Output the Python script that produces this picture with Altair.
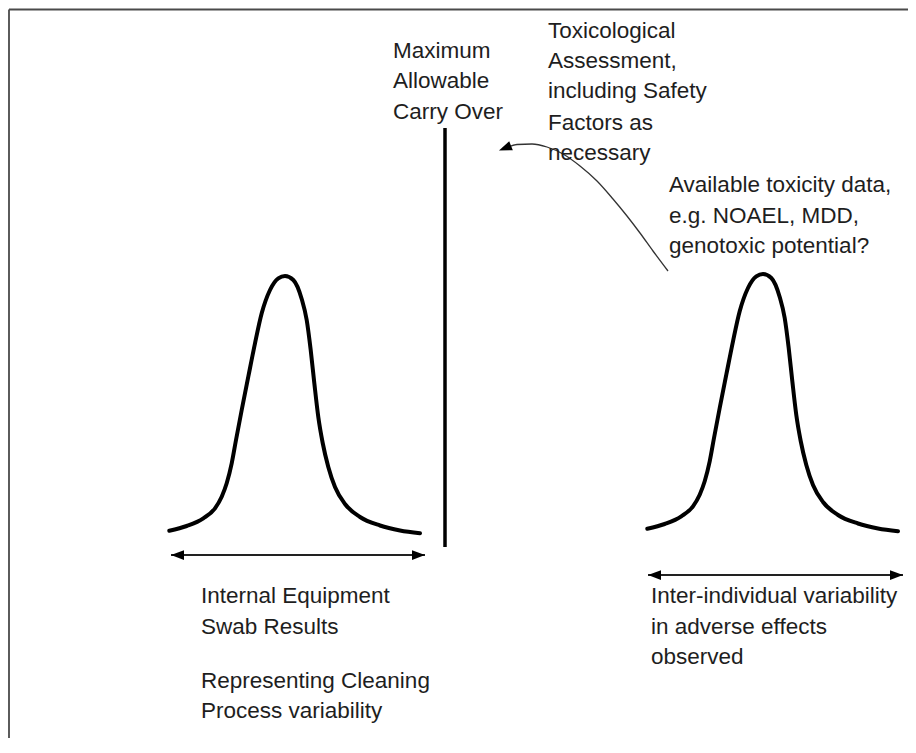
import altair as alt
import pandas as pd

# ---- geometry (page pixel coordinates) ----
# left bell curve: swab results
left_curve_x = [169.3, 186.7, 203.3, 215.0, 221.7, 226.7, 231.7, 236.0, 241.7, 248.3, 255.0, 261.7,
                270.0, 278.3, 285.0, 293.3, 301.7, 306.7, 310.7, 314.3, 318.3, 322.7, 328.3, 335.0,
                345.0, 360.0, 380.0, 400.0, 420.0]
left_curve_y = [530.7, 526.0, 518.3, 508.3, 496.7, 483.3, 463.3, 440.0, 410.0, 376.7, 343.3, 313.3,
                290.0, 278.3, 276.0, 280.0, 299.0, 320.0, 350.0, 383.0, 417.0, 443.0, 467.0, 487.0,
                504.0, 517.0, 525.5, 530.5, 533.3]
# right bell curve: inter-individual variability
right_curve_x = [647.3, 664.7, 681.3, 693.0, 699.7, 704.7, 709.7, 714.0, 719.7, 726.3, 733.0, 739.7,
                 748.0, 756.3, 763.0, 771.3, 779.7, 784.7, 788.7, 792.3, 796.3, 800.7, 806.3, 813.0,
                 823.0, 838.0, 858.0, 878.0, 898.0]
right_curve_y = [528.7, 524.0, 516.3, 506.3, 494.7, 481.3, 461.3, 438.0, 408.0, 374.7, 341.3, 311.3,
                 288.0, 276.3, 274.0, 278.0, 297.0, 318.0, 348.0, 381.0, 415.0, 441.0, 465.0, 485.0,
                 502.0, 515.0, 523.5, 528.5, 531.3]

# maximum allowable carry over limit
limit_x = [445]
limit_y_top = [128]
limit_y_bottom = [547]

# double-headed range arrows
range_x_start = [171, 648]
range_x_end = [425, 903]
range_y = [555, 575]

# curved arrow from toxicity data to the assessment
link_x = [506, 517, 532, 547, 563, 580, 597, 613, 627, 640, 653, 668]
link_y = [148, 144.5, 144, 147, 154, 166, 181, 199, 216, 233, 251, 271]

# arrow heads (centre x, centre y, rotation)
head_x = [177.5, 418.5, 654.5, 896.5, 505]
head_y = [555, 555, 575, 575, 148.1]
head_angle = [0, 180, 0, 180, 338]

# frame (left and top edges)
frame_x = [9, 9]
frame_x2 = [9, 960]
frame_y = [9.5, 9.5]
frame_y2 = [800, 9.5]

# text labels
label_text = ["Maximum", "Allowable", "Carry Over",
              "Toxicological", "Assessment,", "including Safety", "Factors as", "necessary",
              "Available toxicity data,", "e.g. NOAEL, MDD,", "genotoxic potential?",
              "Internal Equipment", "Swab Results", "Representing Cleaning", "Process variability",
              "Inter-individual variability", "in adverse effects", "observed"]
label_x = [393, 393, 393,
           548, 548, 548, 548, 548,
           669, 669, 669,
           201, 201, 201, 201,
           651, 651, 651]
label_y = [58.3, 88.3, 119,
           37.7, 68.3, 98.3, 130, 160,
           191.7, 222.5, 253,
           603.3, 634, 688.3, 718.3,
           603.3, 633.5, 664]

# ---- chart ----
W, H = 900, 730
xs = alt.Scale(domain=[8, 8 + W], nice=False, zero=False)
ys = alt.Scale(domain=[8, 8 + H], nice=False, zero=False, reverse=True)

curves = pd.DataFrame({
    "x": left_curve_x + right_curve_x,
    "y": left_curve_y + right_curve_y,
    "id": ["left"] * len(left_curve_x) + ["right"] * len(right_curve_x),
})
link = pd.DataFrame({"x": link_x, "y": link_y})
heads = pd.DataFrame({"x": head_x, "y": head_y, "angle": head_angle})
frame = pd.DataFrame({"x": frame_x, "x2": frame_x2, "y": frame_y, "y2": frame_y2})
limit = pd.DataFrame({"x": limit_x, "y": limit_y_top, "y2": limit_y_bottom})
ranges = pd.DataFrame({"x": range_x_start, "x2": range_x_end, "y": range_y})
labels = pd.DataFrame({"t": label_text, "x": label_x, "y": label_y})

X = alt.X("x:Q", scale=xs, axis=None)
Y = alt.Y("y:Q", scale=ys, axis=None)

frame_layer = alt.Chart(frame).mark_rule(color="#4a4a4a", strokeWidth=1.8).encode(
    x=X, x2="x2:Q", y=Y, y2="y2:Q")

curve_layer = alt.Chart(curves).mark_line(
    color="black", strokeWidth=4, interpolate="monotone", strokeCap="round", strokeJoin="round"
).encode(x=X, y=Y, detail="id:N")

limit_layer = alt.Chart(limit).mark_rule(color="black", strokeWidth=3.5).encode(
    x=X, y=Y, y2="y2:Q")

range_layer = alt.Chart(ranges).mark_rule(color="#222", strokeWidth=1.8).encode(
    x=X, x2="x2:Q", y=Y)

link_layer = alt.Chart(link).mark_line(
    color="#333", strokeWidth=1.3, interpolate="monotone"
).encode(x=X, y=Y)

head_layer = alt.Chart(heads).mark_point(
    shape="M-1,0L1,-0.75L1,0.75Z", filled=True, size=169, color="black", opacity=1, strokeWidth=0
).encode(x=X, y=Y, angle=alt.Angle("angle:Q", scale=None))

text_layer = alt.Chart(labels).mark_text(
    align="left", baseline="alphabetic", font="Liberation Sans", fontSize=22.5, color="#1e1e1e"
).encode(x=X, y=Y, text="t:N")

chart = alt.layer(
    frame_layer, curve_layer, limit_layer, range_layer, link_layer, head_layer, text_layer
).properties(
    width=W, height=H, autosize=alt.AutoSizeParams(type="none"), padding=0
).configure_view(stroke=None)

chart.save("out.html", embed_options={"renderer": "svg", "actions": False})
